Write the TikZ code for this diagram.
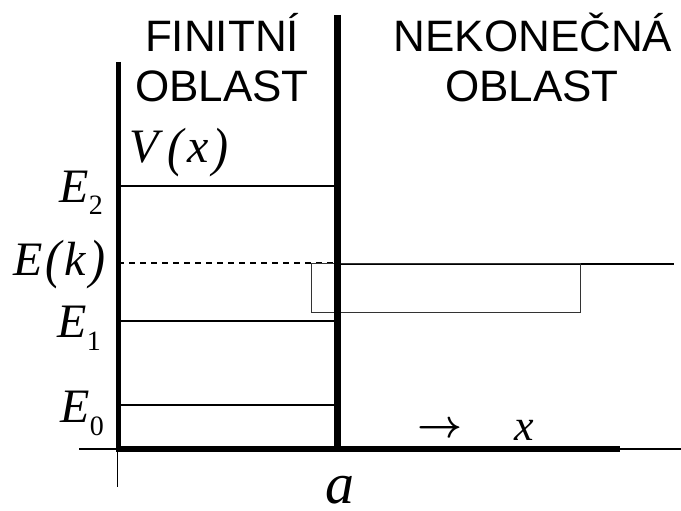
\documentclass[tikz,border=0pt]{standalone}
\usepackage{fontspec}
\usepackage{graphicx}
\setmainfont{Liberation Serif}
\newfontfamily\hv{Liberation Sans}
\newcommand{\sbs}[1]{\raisebox{-13pt}{\fontsize{28}{30}\selectfont\upshape #1}}
\newcommand{\lp}{\raisebox{-2pt}{\scalebox{1}[1.12]{(}}}
\newcommand{\rp}{\raisebox{-2pt}{\scalebox{1}[1.12]{)}}}
\begin{document}
\begin{tikzpicture}[x=1pt,y=-1pt,
  lab/.style={inner sep=0pt,font=\fontsize{48}{52}\selectfont\itshape},
  head/.style={inner sep=0pt,font=\hv\fontsize{44}{50}\selectfont,anchor=base},
  lvl/.style={line width=1.3pt},
  wall/.style={line width=#1}]
\useasboundingbox (0,0) rectangle (681,511);
% headings
\node[head] (h1) at (222,52) {FINITNÍ};
\node[head] (h2) at (222,102) {OBLAST};
\node[head] (h3) at (533,52) {NEKONEČNÁ};
\node[head] (h4) at (532,102) {OBLAST};
% axes
\draw[line width=1.5pt] (79,449) -- (681,449);
\draw[line width=1.5pt] (117.5,449) -- (117.5,487);
% levels
\draw[lvl] (118,186) -- (337,186);
\draw[lvl,dash pattern=on 6pt off 5pt] (118,263) -- (337,263);
\draw[lvl] (337,264) -- (674,264);
\draw[lvl] (118,321) -- (337,321);
\draw[lvl] (118,405) -- (337,405);
\draw[line width=0.9pt,black!80] (311,263) rectangle (580,312);
% walls
\draw[wall=5pt] (118.5,62) -- (118.5,452);
\draw[wall=7pt] (337,15) -- (337,452);
\draw[wall=6pt] (116,449) -- (620,449);
% labels
\node[lab,anchor=base west] (V) at (129,163) {V\kern9pt\lp\kern4pt x\kern4pt\rp};
\node[lab,anchor=base east] (E2) at (103,202) {E\sbs{2}};
\node[lab,anchor=base east] (Ek) at (106,275) {E\kern3pt\lp\kern3pt k\kern4pt\rp};
\node[lab,anchor=base east] (E1) at (101,337) {E\sbs{1}};
\node[lab,anchor=base east] (E0) at (104,422) {E\sbs{0}};
\node[inner sep=0pt] (arr) at (440,430) {\resizebox{45pt}{!}{\boldmath$\rightarrow$}};
\node[lab,anchor=base west,font=\fontsize{44}{48}\selectfont\itshape] (xl) at (514,440) {x};
\node[lab,anchor=base west,font=\fontsize{58}{62}\selectfont\itshape] (al) at (325,503) {a};
\end{tikzpicture}
\end{document}
